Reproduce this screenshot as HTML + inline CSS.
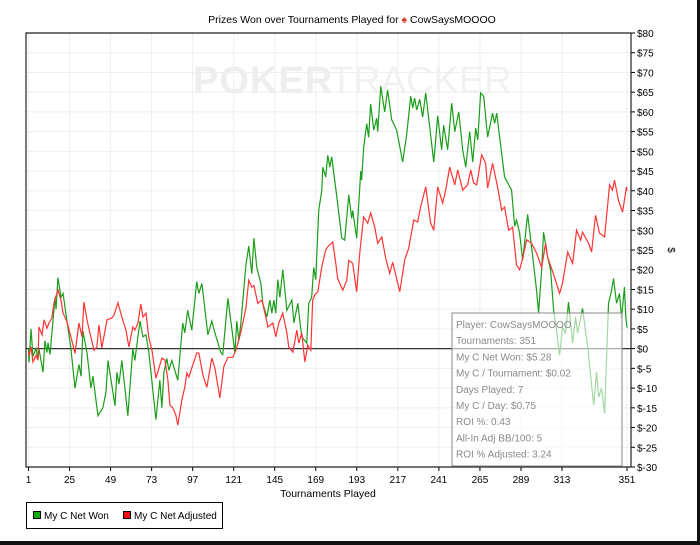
<!DOCTYPE html>
<html><head><meta charset="utf-8"><style>
body{margin:0;background:#fff;}
svg{display:block;font-family:"Liberation Sans",sans-serif;}
</style></head><body>
<svg id="c" width="700" height="545" viewBox="0 0 700 545">
<rect x="0" y="0" width="700" height="545" fill="#fff"/>
<text x="352" y="23" font-size="10.5" text-anchor="middle" fill="#000">Prizes Won over Tournaments Played for <tspan fill="#e03020">♠</tspan> CowSaysMOOOO</text>
<g id="grid"></g>
<g><text x="193" y="93" font-size="38" font-weight="bold" fill="#eeeeee" letter-spacing="1">POKER</text><text x="330" y="93" font-size="38" fill="#f1f1f1">TRACKER</text></g>
<g id="series"></g>
<g id="axes"></g>
<rect x="0" y="541" width="700" height="4" fill="#111"/>
<rect x="697" y="0" width="3" height="545" fill="#111"/>
</svg>
<script>
const yTicks=[80,75,70,65,60,55,50,45,40,35,30,25,20,15,10,5,0,-5,-10,-15,-20,-25,-30];
const xTicks=[1,25,49,73,97,121,145,169,193,217,241,265,289,313,351];
const seriesNames=["My C Net Won","My C Net Adjusted"];
const greenSeries=[[1,0],[1.3,-3.5],[2.5,5],[3.6,-2],[5.4,0],[6.6,-2.5],[7.1,0],[9.5,-6],[10.6,2],[11.8,-1],[12.4,1.5],[13.6,-1.5],[16.5,13],[17.1,10],[18.2,18],[20,13],[21.2,14],[23.5,7],[25.8,0],[28.2,-10],[30.5,-4],[31.7,-7],[32.8,4.5],[35.2,-1],[37.5,-10],[38.7,-7],[41.6,-17],[44.5,-15],[46.3,-11],[47.5,-3],[51.6,-14.5],[52.7,-6],[53.9,-9],[55.6,-3],[59.1,-17],[62,0],[63.2,-3],[66.2,7],[67.9,3],[69.7,3.5],[71.4,-1],[75.5,-18],[77.8,-8],[79,-15],[80.2,-6],[81.9,-2.5],[83.1,-5.5],[84.8,-3],[88.3,-8],[91.2,6.5],[92.4,4],[94.1,9.7],[96.5,4.7],[99.4,17],[100.6,14],[102.4,16.5],[105.9,3.5],[108.2,7],[110,4],[113.5,-1],[114.6,-1.5],[117.6,12.8],[121.7,-1],[122.8,7],[124,2],[125.2,6.5],[128.1,21],[129.8,26],[131.6,19],[132.8,28],[134.5,20.6],[136.9,16.5],[138,11.5],[140.4,8],[142.1,12.3],[143.3,9],[144.5,12.3],[145.6,9],[146.8,17.5],[148,13],[149.7,20],[152.1,9.7],[155,12.3],[156.2,6.5],[158.5,11.5],[160.8,3],[163.7,1.4],[164.9,11.5],[166.6,13],[167.8,20.6],[169,17.5],[170.7,35],[172.5,40],[173.1,46],[174.8,43.5],[176,49],[177.2,46],[178.3,48.6],[181.3,38.5],[184.2,28],[185.9,27.5],[188.3,39],[190,33],[190.6,35],[192.9,28],[195.3,45],[195.8,42.7],[197,51],[198.8,57],[199.9,53.6],[201.1,62],[202.9,55.4],[204.6,58.4],[205.2,55],[207,66.5],[209.3,60],[211,65.6],[213.4,58],[216.3,55.4],[219.8,47.3],[222.1,54],[224.5,64],[225.7,61],[226.8,63.5],[228,60.5],[229.8,63.2],[231.5,58.7],[233.3,64.8],[238,47.3],[240.3,59],[242.6,50.4],[243.8,56.6],[246.1,50.4],[248.5,62.2],[250.3,55],[252.6,60],[254.9,50.4],[256.7,46],[259,55],[260.8,47.3],[262.5,55.9],[263.7,52.9],[265.4,64.8],[267.2,63.9],[269.5,53.6],[272.4,59.7],[273.6,57.1],[274.8,59.7],[279.4,43.5],[283.5,40.2],[285.3,31],[286.4,32.6],[288.2,29.3],[290,22.4],[292.9,34],[295.2,25.8],[298.1,14.8],[299.3,9.2],[301.1,19.9],[302.2,29.5],[304.6,23.2],[306.3,19.9],[308.1,9.7],[309.8,4.7],[311.6,-1.7],[313.3,5.4],[315.1,4],[316.8,11.8],[319.2,1.4],[320.9,8],[322.1,4],[325,10.2],[328,0.4],[331.5,-14.3],[333.2,-5.9],[334.4,-12.3],[336.1,-10],[337.9,-16.4],[340.2,11.5],[342,14.8],[343.1,17.8],[344.9,11.5],[346.6,14],[347.8,7.7],[349.5,15.6],[350.3,8],[351,5.3]];
const redSeries=[[1,-1],[1.3,-1.7],[2.5,0.4],[3.6,-3.4],[5.4,-1.7],[6.6,-2.9],[7.1,5.5],[8.9,3.5],[10.1,7.3],[11.8,5.2],[13,6.5],[14.7,7.8],[15.9,11.6],[18.2,14.9],[20,12.3],[21.2,9],[23.5,6.8],[25.8,3],[28.2,-1.2],[30.5,6.5],[32.3,3],[33.4,11.8],[35.2,7.3],[36.9,4],[39.3,-0.4],[41,0.4],[42.2,6],[43.9,0.2],[46.9,7.3],[49.8,7.8],[51,8.5],[53.3,11.6],[55.6,8],[58,4.7],[59.7,0.4],[62,5.5],[63.2,4.7],[65,6.5],[66.7,11.3],[67.9,8],[69.7,9],[71.4,2.7],[73.2,-0.4],[75.5,-7.5],[77.3,-4.9],[79,-2.4],[80.8,-2.9],[82.5,-7.9],[83.7,-14.3],[85.4,-15],[87.2,-16.9],[88.3,-19.4],[90.7,-13],[92.4,-9.8],[93.6,-6.2],[94.8,-7.2],[96.5,-4.9],[99.4,-1.1],[100.6,-1.1],[103,-6.7],[105.3,-9.8],[108.2,-2.4],[110,-4.9],[112.9,-12.5],[115.2,-4.6],[117.6,-2.2],[120.5,-2.2],[122.3,-0.4],[125.2,4.2],[128.1,10.2],[129.8,17.3],[131.6,15.6],[132.8,16],[135.1,11.5],[137.5,12.3],[139.8,8],[141,5.5],[143.9,6.5],[145.6,3],[147.4,6.5],[149.7,9],[152.1,4],[153.2,0.4],[155.6,-0.9],[157.9,4.7],[159.1,1.4],[160.8,4],[162.6,-3.4],[164.3,0.9],[166.1,-0.4],[167.2,12.3],[168.4,13.6],[170.2,14.4],[172.5,20.7],[174.8,25],[176,25.8],[178.9,27],[180.7,21.6],[181.8,17.8],[184.8,14.8],[187.1,17.3],[188.3,22.4],[190.6,21.6],[192.9,14.4],[194.7,24.2],[197,33.4],[199.4,31.8],[201.1,34.4],[203.5,30.8],[205.2,26.7],[207.6,28.3],[209.9,22.9],[212.2,19.1],[214,21.9],[218.1,14.4],[221,22.5],[223.3,25.4],[226.3,32.6],[228.6,32.1],[230.3,35.9],[233.3,41],[236.2,31.8],[238,30],[240.3,41],[243.2,36.9],[245,40.2],[247.3,46],[250.3,41.5],[252,45.3],[254.9,40.2],[257.8,41.5],[259.6,45.3],[261.3,42],[263.1,41.5],[266,49.1],[268.3,47],[269.5,40.7],[272.4,47],[275.3,41],[277.7,35.1],[279.4,35.9],[281.8,30],[284.1,30.8],[286.4,21.2],[288.2,20],[290,22.9],[292.3,27.6],[295.2,26.7],[298.1,24.2],[301.1,20.6],[303.4,26.7],[304.6,23.2],[308.6,18.1],[311.6,14],[313.3,16.6],[316.3,24.5],[319.2,21.6],[321.5,30],[323.9,27.5],[325,29.5],[328.5,26.7],[330.3,24.5],[332.6,33.8],[334.9,29.3],[337.9,28.3],[340.8,41.5],[342.5,40.2],[343.7,42.7],[346,37.6],[348.4,34.6],[350.7,41],[351,40]];
const infoLines=["Player: CowSaysMOOOO","Tournaments: 351","My C Net Won: $5.28","My C / Tournament: $0.02","Days Played: 7","My C / Day: $0.75","ROI %: 0.43","All-In Adj BB/100: 5","ROI % Adjusted: 3.24"];

const NS="http://www.w3.org/2000/svg";
const PL=26,PR=631,PT=33,PB=467,X0=28.5,X1=627;
const xs=t=>X0+(t-1)*(X1-X0)/350;
const ys=v=>PT+(80-v)*(PB-PT)/110;
function mk(tag,attrs,parent){const e=document.createElementNS(NS,tag);for(const k in attrs)e.setAttribute(k,attrs[k]);parent.appendChild(e);return e;}
const grid=document.getElementById('grid'),series=document.getElementById('series'),axes=document.getElementById('axes');
yTicks.forEach(v=>{const l=mk('line',{x1:PL,x2:PR,y1:ys(v),y2:ys(v),stroke:'#efefef','stroke-width':1},grid);


const tk=mk('line',{x1:PR,x2:PR+4,y1:ys(v),y2:ys(v),stroke:'#000'},axes);


const t=mk('text',{x:PR+6,y:ys(v)+4,'font-size':10,fill:'#000'},axes);t.textContent=(v<0?'$-'+(-v):'$'+v);

});
xTicks.forEach(v=>{const l=mk('line',{x1:xs(v),x2:xs(v),y1:PT,y2:PB,stroke:'#efefef'},grid);


const tk=mk('line',{x1:xs(v),x2:xs(v),y1:PB,y2:PB+4,stroke:'#000'},axes);


const t=mk('text',{x:xs(v),y:PB+16,'font-size':10,'text-anchor':'middle',fill:'#000'},axes);t.textContent=v;

});
const zl=mk('line',{x1:PL,x2:PR,y1:ys(0),y2:ys(0),stroke:'#333','stroke-width':1.2},grid);


const gl=mk('polyline',{points:greenSeries.map(p=>xs(p[0])+','+ys(p[1])).join(' '),fill:'none',stroke:'#1a9e1a','stroke-width':1.2},series);


const rl=mk('polyline',{points:redSeries.map(p=>xs(p[0])+','+ys(p[1])).join(' '),fill:'none',stroke:'#ff3333','stroke-width':1.2},series);


const fr=mk('path',{d:`M${PR},${PT} H${PL} V${PB} H${PR} V${PT}`,fill:'none',stroke:'#222','stroke-width':1.2},axes);


const ib=mk('rect',{x:452,y:313,width:170,height:153,fill:'#fff','fill-opacity':0.6,stroke:'#888'},axes);


infoLines.forEach((s,i)=>{const t=mk('text',{x:456,y:328+i*16.2,'font-size':10,fill:'#8a8a8a'},axes);t.textContent=s;

});
const yt=mk('text',{x:668,y:250,'font-size':10,transform:'rotate(90 668 250)','text-anchor':'middle'},axes);yt.textContent='$';


const xt=mk('text',{x:328,y:497,'font-size':10.5,'text-anchor':'middle'},axes);xt.textContent='Tournaments Played';


const lg=mk('rect',{x:26.5,y:502.5,width:196,height:26,fill:'#fff',stroke:'#000'},axes);


[['#11aa11',33,seriesNames[0]],['#ee1111',123,seriesNames[1]]].forEach(([c,x,n])=>{const g=mk('g',{},axes);


mk('rect',{x:x+0.5,y:511.5,width:7,height:7,fill:c,stroke:'#000'},g);
const t=mk('text',{x:x+11,y:519,'font-size':10},g);t.textContent=n;});
</script>
</body></html>
